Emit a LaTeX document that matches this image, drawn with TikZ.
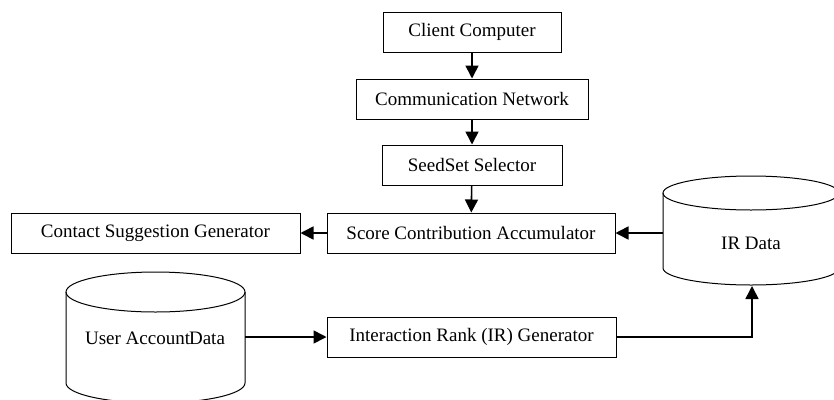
\documentclass[tikz,border=0pt]{standalone}
\usepackage{fontspec}
\setmainfont{Liberation Serif}
\usetikzlibrary{arrows.meta}
\begin{document}
\begin{tikzpicture}[x=1pt,y=-1pt,
  box/.style={draw, line width=1pt, inner sep=0pt, minimum height=40pt, font=\fontsize{19}{22}\selectfont},
  arr/.style={line width=1.6pt, -{Triangle[length=13pt,width=13pt]}},
  cyl/.style={line width=1pt},
  lbl/.style={font=\fontsize{19}{22}\selectfont, inner sep=0pt}]
\useasboundingbox (0,0) rectangle (834,399);

\node[box, minimum width=178pt] (cc) at (472,32) {Client Computer};
\node[box, minimum width=232pt] (cn) at (472,99) {Communication Network};
\node[box, minimum width=180pt] (ss) at (472,165) {SeedSet Selector};
\node[box, minimum width=288pt] (sca) at (471,233) {Score Contribution Accumulator};
\node[box, minimum width=289pt] (csg) at (155.5,233) {Contact Suggestion Generator};
\node[box, minimum width=289pt] (irg) at (471.5,337) {Interaction Rank (IR) Generator};

% IR Data cylinder
\draw[cyl] (751,193) ellipse [x radius=88pt, y radius=17pt];
\draw[cyl] (663,193) -- (663,268) arc[start angle=180, end angle=360, x radius=88pt, y radius=17pt] -- (839,193);
\node[lbl] (ir) at (751,243) {IR Data};
\coordinate (irL) at (663,233);
\coordinate (irB) at (752,286);

% User Account Data cylinder
\draw[cyl] (155.5,292) ellipse [x radius=89.5pt, y radius=20pt];
\draw[cyl] (66,292) -- (66,383) arc[start angle=180, end angle=360, x radius=89.5pt, y radius=20pt] -- (245,292);
\node[lbl] (ua) at (155,338) {User Account\kern-1pt Data};
\coordinate (uaR) at (245,337);

\draw[arr] (cc) -- (cn);
\draw[arr] (cn) -- (ss);
\draw[arr] (ss) -- (sca);
\draw[arr] (sca) -- (csg);
\draw[arr] (irL) -- (sca);
\draw[arr] (uaR) -- (irg);
\draw[arr] (irg.east) -| (irB);
\end{tikzpicture}
\end{document}
